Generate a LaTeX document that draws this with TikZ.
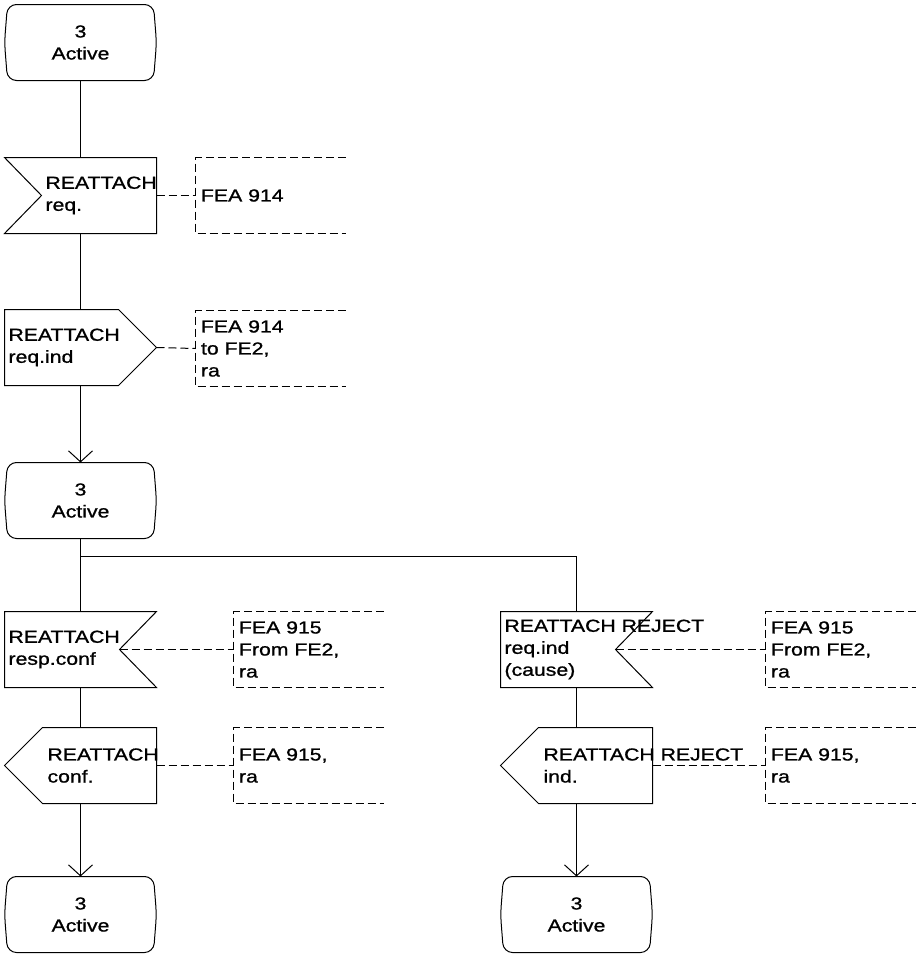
\documentclass[tikz,border=0pt]{standalone}
\usepackage{fontspec}
\setmainfont{Liberation Sans}[FakeStretch=1.22,FakeBold=1]
\usepackage{tikz}
\usetikzlibrary{arrows.meta}
\tikzset{
    sigtext/.style={anchor=west, align=left, inner sep=0pt},
    cmtline/.style={dash pattern=on 8pt off 4pt},
    flow/.style={-{Straight Barb[length=11pt,width=24pt]}}
}
\tikzset{
    activestate/.pic={
		\draw[rounded corners=9pt] (0,-38) -- (73,-38) -- (76,0) -- (73,38) -- (-73,38) -- (-76,0) -- (-73,-38) -- cycle;
		\node[align=center, inner sep=0pt] (-text) at (0,0) {3\\Active};
		\coordinate (-top) at (0,-38);
		\coordinate (-bot) at (0,38);
	}
}
\tikzset{
    inleft/.pic={
		\draw (-76,-38) -- (76,-38) -- (76,38) -- (-76,38) -- (-39,0) -- cycle;
		\node[sigtext] (-text) at (-35.5,0) {#1};
		\coordinate (-top) at (0,-38);
		\coordinate (-bot) at (0,38);
		\coordinate (-side) at (76,0);
	},
    inright/.pic={
		\draw (-76,-38) -- (76,-38) -- (39,0) -- (76,38) -- (-76,38) -- cycle;
		\node[sigtext] (-text) at (-72.5,0) {#1};
		\coordinate (-top) at (0,-38);
		\coordinate (-bot) at (0,38);
		\coordinate (-side) at (39,0);
	}
}
\tikzset{
    outright/.pic={
		\draw (-76,-38) -- (38,-38) -- (76,0) -- (38,38) -- (-76,38) -- cycle;
		\node[sigtext] (-text) at (-72.5,0) {#1};
		\coordinate (-top) at (0,-38);
		\coordinate (-bot) at (0,38);
		\coordinate (-side) at (76,0);
	},
    outleft/.pic={
		\draw (-76,0) -- (-38,-38) -- (76,-38) -- (76,38) -- (-38,38) -- cycle;
		\node[sigtext] (-text) at (-33.5,0) {#1};
		\coordinate (-top) at (0,-38);
		\coordinate (-bot) at (0,38);
		\coordinate (-side) at (76,0);
	}
}
\tikzset{
    comment/.pic={
		\draw[cmtline] (150,-38) -- (0,-38) -- (0,38) -- (150,38);
		\node[sigtext] (-text) at (5,0) {#1};
		\coordinate (-in) at (0,0);
	}
}
\begin{document}
\begin{tikzpicture}[x=1pt, y=-1pt, line width=1pt, font=\fontsize{17.4pt}{22pt}\selectfont]
			\useasboundingbox (0,0) rectangle (919,954);
			% left branch
			\pic (s1) at (80.5,42.5) {activestate};
			\pic (i1) at (80.5,195.5) {inleft={REATTACH\\req.}};
			\pic (o1) at (80.5,347.5) {outright={REATTACH\\req.ind}};
			\pic (s2) at (80.5,500.5) {activestate};
			\pic (i2) at (80.5,649.5) {inright={REATTACH\\resp.conf}};
			\pic (o2) at (80.5,765.5) {outleft={REATTACH\\conf.}};
			\pic (s3) at (80.5,914.5) {activestate};
			% right branch
			\pic (i3) at (576.5,649.5) {inright={REATTACH REJECT\\req.ind\\(cause)}};
			\pic (o3) at (576.5,765.5) {outleft={REATTACH REJECT\\ind.}};
			\pic (s4) at (576.5,914.5) {activestate};
			% comments
			\pic (c1) at (195.5,195.5) {comment={FEA 914}};
			\pic (c2) at (195.5,348.5) {comment={FEA 914\\to FE2,\\ra}};
			\pic (c3) at (233.5,649.5) {comment={FEA 915\\From FE2,\\ra}};
			\pic (c4) at (233.5,765.5) {comment={FEA 915,\\ra}};
			\pic (c5) at (765.5,649.5) {comment={FEA 915\\From FE2,\\ra}};
			\pic (c6) at (765.5,765.5) {comment={FEA 915,\\ra}};
			\coordinate (fork) at (80.5,556.5);
			\draw (s1-bot) -- (i1-top);
			\draw (i1-bot) -- (o1-top);
			\draw[flow] (o1-bot) -- (s2-top);
			\draw (s2-bot) -- (i2-top);
			\draw (fork) -| (i3-top);
			\draw (i2-bot) -- (o2-top);
			\draw[flow] (o2-bot) -- (s3-top);
			\draw (i3-bot) -- (o3-top);
			\draw[flow] (o3-bot) -- (s4-top);
			\draw[cmtline] (i1-side) -- (c1-in);
			\draw[cmtline] (o1-side) -- (c2-in);
			\draw[cmtline] (i2-side) -- (c3-in);
			\draw[cmtline] (o2-side) -- (c4-in);
			\draw[cmtline] (i3-side) -- (c5-in);
			\draw[cmtline] (o3-side) -- (c6-in);
\end{tikzpicture}
\end{document}
